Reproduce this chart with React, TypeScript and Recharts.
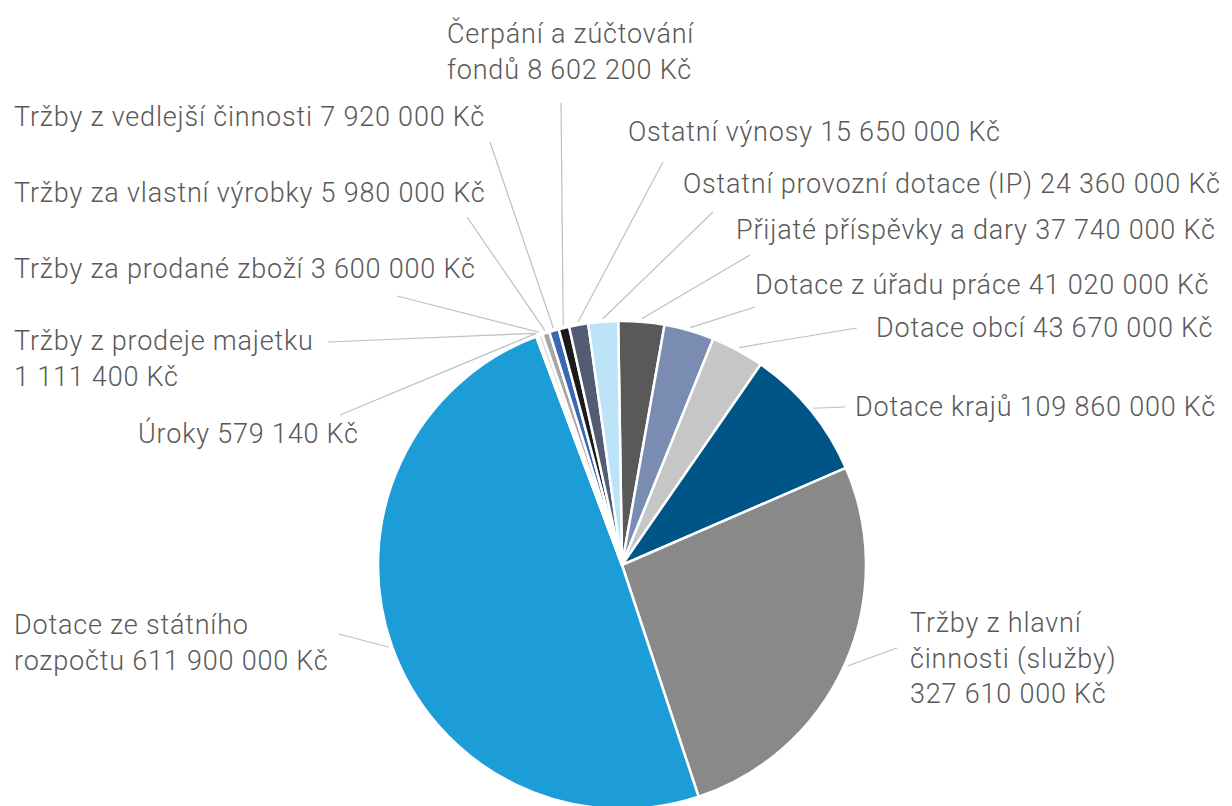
import { PieChart, Pie, Cell } from "recharts";

// clockwise from 12 o'clock
const names = [
  "Přijaté příspěvky a dary",
  "Dotace z úřadu práce",
  "Dotace obcí",
  "Dotace krajů",
  "Tržby z hlavní činnosti (služby)",
  "Dotace ze státního rozpočtu",
  "Úroky",
  "Tržby z prodeje majetku",
  "Tržby za prodané zboží",
  "Tržby za vlastní výrobky",
  "Tržby z vedlejší činnosti",
  "Čerpání a zúčtování fondů",
  "Ostatní výnosy",
  "Ostatní provozní dotace (IP)",
];
const values = [
  37740000, 41020000, 43670000, 109860000, 327610000, 611900000, 579140,
  1111400, 3600000, 5980000, 7920000, 8602200, 15650000, 24360000,
];
const colors = [
  "#595959", "#7a8cb2", "#c6c6c6", "#005587", "#898989", "#1d9dd8", "#e3e3e3",
  "#bdbdbd", "#e0e0e0", "#a6a6a6", "#3b68b2", "#1a1a1a", "#525c73", "#bde3f8",
];

// label placement: text x, first baseline y, leader end, words per line
const labelLayout = [
  { x: 736, y: 239, lx: 750, ly: 255, wrap: [] as number[] },
  { x: 755, y: 294, lx: 755, ly: 307, wrap: [] },
  { x: 876, y: 337, lx: 857, ly: 328, wrap: [] },
  { x: 855, y: 416, lx: 845, ly: 407, wrap: [] },
  { x: 910, y: 632, lx: 897, ly: 648, wrap: [3, 2] },
  { x: 14, y: 634, lx: 339, ly: 634, wrap: [3] },
  { x: 138, y: 443, lx: 340, ly: 415, wrap: [] },
  { x: 14, y: 350, lx: 328, ly: 342, wrap: [4] },
  { x: 14, y: 278, lx: 397, ly: 296, wrap: [] },
  { x: 14, y: 202, lx: 467, ly: 217, wrap: [] },
  { x: 14, y: 126, lx: 490, ly: 142, wrap: [] },
  { x: 447, y: 43, lx: 561, ly: 103, wrap: [3] },
  { x: 628, y: 141, lx: 663, ly: 162, wrap: [] },
  { x: 683, y: 193, lx: 713, ly: 212, wrap: [] },
];

const data = names.map((name, i) => ({ name, value: values[i] }));

const fmt = (v: number) => String(v).replace(/\B(?=(\d{3})+(?!\d))/g, " ") + " Kč";
const RAD = Math.PI / 180;

function splitLines(text: string, wrap: number[]) {
  const words = text.split(" ");
  const out: string[] = [];
  let pos = 0;
  for (const n of wrap) {
    out.push(words.slice(pos, pos + n).join(" "));
    pos += n;
  }
  out.push(words.slice(pos).join(" "));
  return out;
}

// eslint-disable-next-line @typescript-eslint/no-explicit-any
function renderLabel(props: any) {
  const { cx, cy, midAngle, outerRadius, index } = props;
  const lay = labelLayout[index];
  const sx = cx + (outerRadius + 3) * Math.cos(-midAngle * RAD);
  const sy = cy + (outerRadius + 3) * Math.sin(-midAngle * RAD);
  const lines = splitLines(`${names[index]} ${fmt(values[index])}`, lay.wrap);
  return (
    <g key={`lbl-${index}`}>
      <line x1={sx} y1={sy} x2={lay.lx} y2={lay.ly} stroke="#bfbfbf" strokeWidth={1.2} />
      <text
        x={lay.x}
        y={lay.y}
        fill="#595959"
        fontSize={27}
        fontWeight={300}
        letterSpacing={0.8}
        fontFamily="Roboto, 'Open Sans', sans-serif"
        textAnchor="start"
      >
        {lines.map((l, j) => (
          <tspan key={j} x={lay.x} y={lay.y + j * 35.5}>
            {l}
          </tspan>
        ))}
      </text>
    </g>
  );
}

export default function App() {
  return (
    <div style={{ position: "absolute", left: 0, top: 0, width: 1232, height: 806, background: "#fff" }}>
      <PieChart width={1232} height={806} margin={{ top: 0, right: 0, bottom: 0, left: 0 }}>
        <Pie
          data={data}
          dataKey="value"
          nameKey="name"
          cx={622}
          cy={565}
          outerRadius={244}
          startAngle={90.9}
          endAngle={-269.1}
          stroke="#ffffff"
          strokeWidth={2.5}
          label={renderLabel}
          labelLine={false}
          isAnimationActive={false}
        >
          {data.map((d, i) => (
            <Cell key={d.name} fill={colors[i]} />
          ))}
        </Pie>
      </PieChart>
    </div>
  );
}
